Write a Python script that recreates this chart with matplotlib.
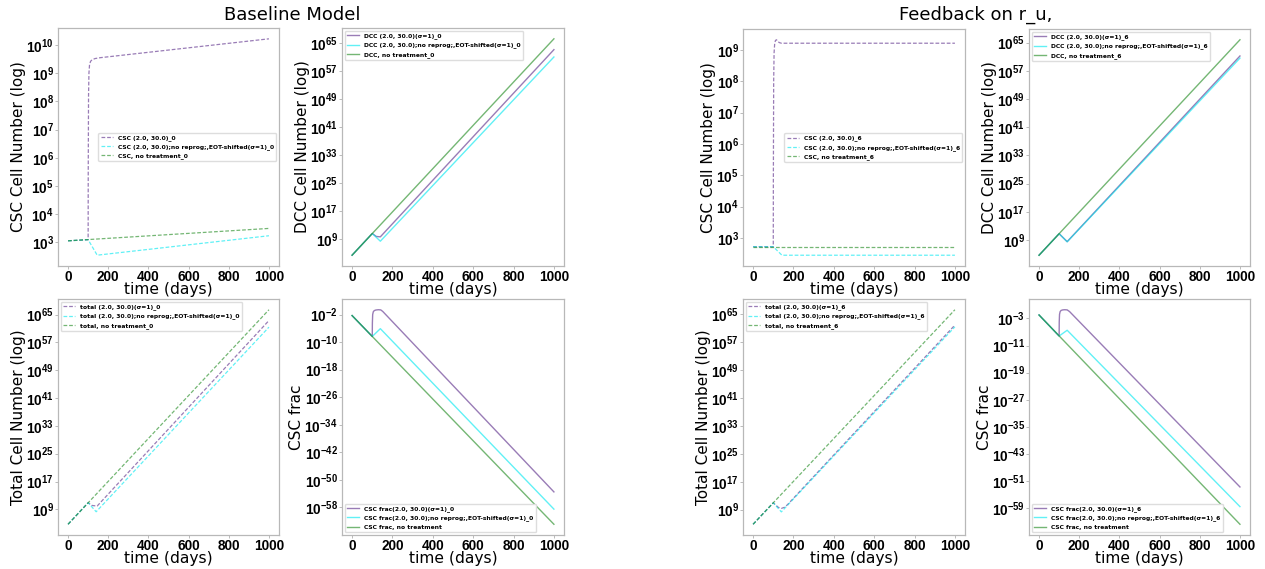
import numpy as np
import matplotlib
matplotlib.use("Agg")
import matplotlib.pyplot as plt
from matplotlib.ticker import NullLocator

plt.rcParams['font.family'] = ['DejaVu Sans']
plt.rcParams['mathtext.default'] = 'regular'

W, H = 1265, 569

# ---------------- Baseline model (run _0), values as log10 ----------------
# CSC cell number
csc0_treat_t = [0, 100, 100.5, 102, 104, 107, 112, 120, 135, 160, 1000]
csc0_treat_v = [3.05, 3.09, 5.5, 8.2, 9.0, 9.3, 9.42, 9.48, 9.52, 9.55, 10.22]
csc0_norep_t = [0, 100, 145, 1000]
csc0_norep_v = [3.05, 3.09, 2.54, 3.23]
csc0_none_t = [0, 1000]
csc0_none_v = [3.05, 3.49]

# DCC cell number
dcc0_treat_t = [0, 100, 120, 140, 1000]
dcc0_treat_v = [4.3, 10.5, 9.65, 9.55, 63.1]
dcc0_norep_t = [0, 100, 140, 1000]
dcc0_norep_v = [4.3, 10.5, 8.3, 61.0]
dcc0_none_t = [0, 1000]
dcc0_none_v = [4.3, 66.2]

# total cell number
tot0_treat_t = [0, 100, 120, 145, 1000]
tot0_treat_v = [4.7, 10.9, 10.1, 9.95, 63.3]
tot0_norep_t = [0, 100, 140, 1000]
tot0_norep_v = [4.7, 10.9, 8.3, 61.4]
tot0_none_t = [0, 1000]
tot0_none_v = [4.7, 66.4]

# CSC fraction
frac0_treat_t = [0, 100, 100.5, 102, 105, 110, 118, 130, 142, 152, 1000]
frac0_treat_v = [-2.3, -8.36, -4.5, -2.0, -1.2, -0.85, -0.68, -0.6, -0.65, -1.1, -53.5]
frac0_norep_t = [0, 100, 140, 1000]
frac0_norep_v = [-2.3, -8.36, -6.1, -58.5]
frac0_none_t = [0, 1000]
frac0_none_v = [-2.3, -62.9]

# ---------------- Feedback on r_u (run _6), values as log10 ----------------
csc6_treat_t = [0, 100, 100.5, 102, 104, 107, 111, 116, 122, 130, 140, 1000]
csc6_treat_v = [2.72, 2.72, 5.0, 8.0, 8.9, 9.2, 9.3, 9.32, 9.27, 9.23, 9.21, 9.21]
csc6_norep_t = [0, 100, 143, 1000]
csc6_norep_v = [2.72, 2.72, 2.45, 2.45]
csc6_none_t = [0, 1000]
csc6_none_v = [2.72, 2.72]

dcc6_treat_t = [0, 100, 140, 1000]
dcc6_treat_v = [4.7, 10.8, 8.55, 61.2]
dcc6_norep_t = [0, 100, 140, 1000]
dcc6_norep_v = [4.7, 10.8, 8.5, 60.6]
dcc6_none_t = [0, 1000]
dcc6_none_v = [4.7, 65.8]

tot6_treat_t = [0, 100, 125, 140, 155, 170, 1000]
tot6_treat_v = [4.8, 10.95, 9.65, 9.35, 9.65, 10.4, 61.9]
tot6_norep_t = [0, 100, 140, 1000]
tot6_norep_v = [4.8, 10.95, 8.35, 61.4]
tot6_none_t = [0, 1000]
tot6_none_v = [4.8, 66.3]

frac6_treat_t = [0, 100, 100.5, 102, 105, 110, 118, 128, 140, 152, 1000]
frac6_treat_v = [-2.0, -8.2, -4.0, -1.8, -1.0, -0.65, -0.5, -0.45, -0.5, -1.0, -52.7]
frac6_norep_t = [0, 100, 140, 1000]
frac6_norep_v = [-2.0, -8.2, -6.5, -58.5]
frac6_none_t = [0, 1000]
frac6_none_v = [-2.0, -63.7]

# tick exponents
xticks = [0, 200, 400, 600, 800, 1000]
csc0_ticks = [3, 4, 5, 6, 7, 8, 9, 10]
csc6_ticks = [3, 4, 5, 6, 7, 8, 9]
big_ticks = [9, 17, 25, 33, 41, 49, 57, 65]
frac0_ticks = [-2, -10, -18, -26, -34, -42, -50, -58]
frac6_ticks = [-3, -11, -19, -27, -35, -43, -51, -59]

PURPLE = '#5b2c8a'
CYAN = '#00e8f0'
GREEN = '#1f8a1f'
ALPHA = 0.62

TICKFONT = dict(fontfamily='Liberation Sans', fontweight='bold', fontsize=9.8)


def rect(x0, y0, x1, y1):
    return [x0 / W, 1 - y1 / H, (x1 - x0) / W, (y1 - y0) / H]


fig = plt.figure(figsize=(W / 100, H / 100), dpi=100)


def panel(box, series, labels, ylabel, ticks, dashed, loc):
    ax = fig.add_axes(rect(*box))
    ls = (0, (3, 1.5)) if dashed else '-'
    lw = 0.9 if dashed else 1.0
    for (t, v), lab, col in zip(series, labels, [PURPLE, CYAN, GREEN]):
        ax.plot(t, 10.0 ** np.asarray(v), ls=ls, lw=lw, color=col,
                alpha=ALPHA, label=lab)
    ax.set_yscale('log')
    ax.set_yticks([10.0 ** e for e in ticks],
                  [r'$10^{%d}$' % e for e in ticks], **TICKFONT)
    ax.yaxis.set_minor_locator(NullLocator())
    ax.set_xticks(xticks, [str(x) for x in xticks], **TICKFONT)
    ax.tick_params(length=2, width=0.6, color='#b0b0b0', pad=1)
    for sp in ax.spines.values():
        sp.set_color('#b8b8b8')
        sp.set_linewidth(0.9)
    ax.set_xlabel('time (days)', fontsize=11.2, labelpad=-1.5)
    ax.set_ylabel(ylabel, fontsize=11, labelpad=0)
    ax.legend(loc=loc, prop={'weight': 'bold', 'size': 4.3},
              handlelength=2.0, framealpha=1.0, edgecolor='#dddddd',
              fancybox=True)
    return ax


sig = '(\u03c3=1)'

panel((58, 28, 279, 266),
      [(csc0_treat_t, csc0_treat_v), (csc0_norep_t, csc0_norep_v),
       (csc0_none_t, csc0_none_v)],
      ['CSC (2.0, 30.0)_0',
       'CSC (2.0, 30.0);no reprog;,EOT-shifted' + sig + '_0',
       'CSC, no treatment_0'],
      'CSC Cell Number (log)', csc0_ticks, True, 'center right')

panel((342, 28, 564, 266),
      [(dcc0_treat_t, dcc0_treat_v), (dcc0_norep_t, dcc0_norep_v),
       (dcc0_none_t, dcc0_none_v)],
      ['DCC (2.0, 30.0)' + sig + '_0',
       'DCC (2.0, 30.0);no reprog;,EOT-shifted' + sig + '_0',
       'DCC, no treatment_0'],
      'DCC Cell Number (log)', big_ticks, False, 'upper left')

panel((58, 299, 279, 535),
      [(tot0_treat_t, tot0_treat_v), (tot0_norep_t, tot0_norep_v),
       (tot0_none_t, tot0_none_v)],
      ['total (2.0, 30.0)' + sig + '_0',
       'total (2.0, 30.0);no reprog;,EOT-shifted' + sig + '_0',
       'total, no treatment_0'],
      'Total Cell Number (log)', big_ticks, True, 'upper left')

panel((342, 299, 564, 535),
      [(frac0_treat_t, frac0_treat_v), (frac0_norep_t, frac0_norep_v),
       (frac0_none_t, frac0_none_v)],
      ['CSC frac(2.0, 30.0)' + sig + '_0',
       'CSC frac(2.0, 30.0);no reprog;,EOT-shifted' + sig + '_0',
       'CSC frac, no treatment'],
      'CSC frac', frac0_ticks, False, 'lower left')

panel((743, 29, 965, 266),
      [(csc6_treat_t, csc6_treat_v), (csc6_norep_t, csc6_norep_v),
       (csc6_none_t, csc6_none_v)],
      ['CSC (2.0, 30.0)_6',
       'CSC (2.0, 30.0);no reprog;,EOT-shifted' + sig + '_6',
       'CSC, no treatment_6'],
      'CSC Cell Number (log)', csc6_ticks, True, 'center right')

panel((1029, 29, 1250, 266),
      [(dcc6_treat_t, dcc6_treat_v), (dcc6_norep_t, dcc6_norep_v),
       (dcc6_none_t, dcc6_none_v)],
      ['DCC (2.0, 30.0)' + sig + '_6',
       'DCC (2.0, 30.0);no reprog;,EOT-shifted' + sig + '_6',
       'DCC, no treatment_6'],
      'DCC Cell Number (log)', big_ticks, False, 'upper left')

panel((743, 299, 965, 535),
      [(tot6_treat_t, tot6_treat_v), (tot6_norep_t, tot6_norep_v),
       (tot6_none_t, tot6_none_v)],
      ['total (2.0, 30.0)' + sig + '_6',
       'total (2.0, 30.0);no reprog;,EOT-shifted' + sig + '_6',
       'total, no treatment_6'],
      'Total Cell Number (log)', big_ticks, True, 'upper left')

panel((1029, 299, 1250, 535),
      [(frac6_treat_t, frac6_treat_v), (frac6_norep_t, frac6_norep_v),
       (frac6_none_t, frac6_none_v)],
      ['CSC frac(2.0, 30.0)' + sig + '_6',
       'CSC frac(2.0, 30.0);no reprog;,EOT-shifted' + sig + '_6',
       'CSC frac, no treatment'],
      'CSC frac', frac6_ticks, False, 'lower left')

fig.text(292 / W, 1 - 15 / H, 'Baseline Model', fontsize=13,
         ha='center', va='center')
fig.text(976 / W, 1 - 15 / H, 'Feedback on r_u,', fontsize=13,
         ha='center', va='center')

fig.savefig('out.png', dpi=100)
